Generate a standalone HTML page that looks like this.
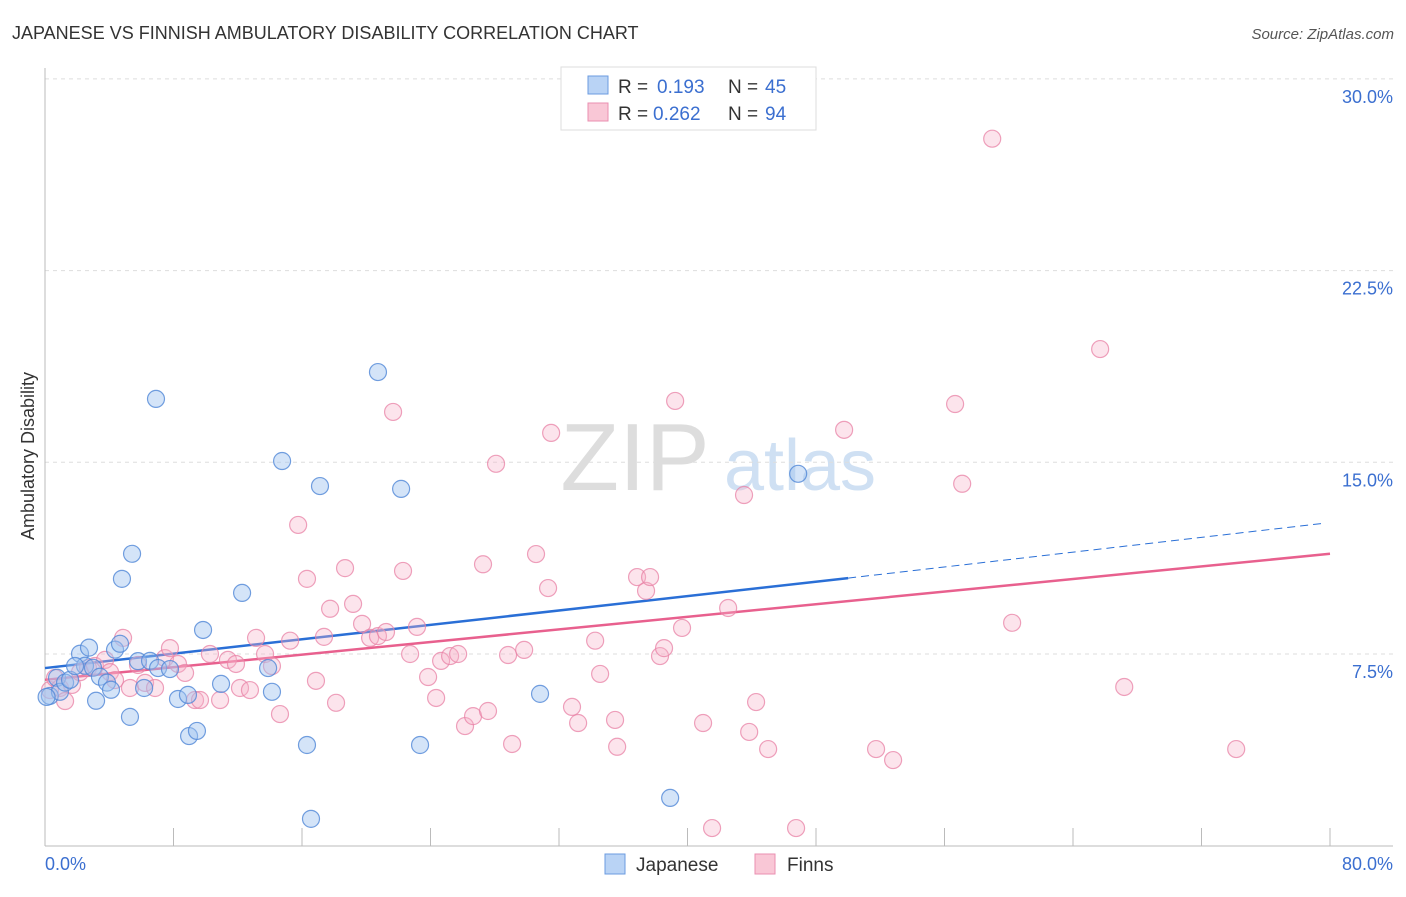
<!DOCTYPE html>
<html><head><meta charset="utf-8"><style>
body{margin:0;background:#fff;font-family:"Liberation Sans",sans-serif;}
svg text{font-family:"Liberation Sans",sans-serif;}
</style></head><body>
<svg id="chart" width="1406" height="892" xmlns="http://www.w3.org/2000/svg">
<text x="12" y="39" font-size="18" fill="#333">JAPANESE VS FINNISH AMBULATORY DISABILITY CORRELATION CHART</text>
<text x="1394" y="39" font-size="15" fill="#555" text-anchor="end" font-style="italic">Source: ZipAtlas.com</text>
<g>
<text x="635" y="490" font-size="96" fill="#ddd" text-anchor="middle" font-family="Liberation Serif,serif">ZIP</text>
<text x="800" y="490" font-size="72" fill="#cfe0f3" text-anchor="middle">atlas</text>
</g>
<g id="grid"></g>
<g id="axes"></g>
<g id="trends"></g>
<g id="points"></g>
<text transform="translate(34,456) rotate(-90)" font-size="18" fill="#333" text-anchor="middle">Ambulatory Disability</text>
<text x="45" y="870" font-size="18" fill="#3b6fd0">0.0%</text>
<text x="1393" y="870" font-size="18" fill="#3b6fd0" text-anchor="end">80.0%</text>
<g>
<rect x="561" y="67" width="255" height="63" fill="#fff" stroke="#ddd"/>
<rect x="588" y="76" width="20" height="18" fill="#b9d3f5" stroke="#6b9be0"/>
<rect x="588" y="103" width="20" height="18" fill="#f9c7d6" stroke="#ea8fb0"/>
<text x="618" y="93" font-size="19" fill="#333">R =</text>
<text x="657" y="93" font-size="19" fill="#3b6fd0">0.193</text>
<text x="728" y="93" font-size="19" fill="#333">N =</text>
<text x="765" y="93" font-size="19" fill="#3b6fd0">45</text>
<text x="618" y="120" font-size="19" fill="#333">R =</text>
<text x="653" y="120" font-size="19" fill="#3b6fd0">0.262</text>
<text x="728" y="120" font-size="19" fill="#333">N =</text>
<text x="765" y="120" font-size="19" fill="#3b6fd0">94</text>
</g>
<g>
<rect x="605" y="854" width="20" height="20" fill="#b9d3f5" stroke="#6b9be0"/>
<text x="636" y="871" font-size="19" fill="#333">Japanese</text>
<rect x="755" y="854" width="20" height="20" fill="#f9c7d6" stroke="#ea8fb0"/>
<text x="787" y="871" font-size="19" fill="#333">Finns</text>
</g>
</svg>
<script>
const yTicks=[7.5,15,22.5,30];
const yTickLabels=["7.5%","15.0%","22.5%","30.0%"];
const xTicks=[0,8,16,24,32,40,48,56,64,72,80];
const japX=[0.3,0.75,0.93,1.25,1.56,2.18,2.49,2.74,2.99,3.18,3.42,3.86,4.11,4.36,4.67,4.79,5.29,5.42,5.79,6.17,6.54,6.91,7.04,7.78,8.28,8.9,8.97,9.46,9.84,10.96,12.27,13.89,14.13,14.76,16.31,16.56,17.12,20.73,22.17,23.35,30.82,38.92,46.89,0.1,1.87];
const japY=[5.86,6.57,6.02,6.38,6.49,7.51,7.04,7.75,6.96,5.67,6.61,6.38,6.1,7.67,7.9,10.44,5.04,11.42,7.22,6.17,7.23,17.48,6.95,6.91,5.74,5.9,4.29,4.49,8.44,6.33,9.89,6.95,6.02,15.05,3.94,1.05,14.07,18.53,13.96,3.94,5.94,1.87,14.55,5.82,7.03];
const finX=[0.31,0.62,0.93,1.25,1.68,2.18,2.68,3.11,3.74,4.05,4.36,4.86,5.29,5.79,6.23,6.85,7.47,7.78,8.28,8.72,9.34,9.65,10.27,10.9,11.39,11.89,12.14,12.76,13.14,13.7,14.13,14.63,15.26,15.76,16.31,16.87,17.37,17.75,18.12,18.68,19.18,19.74,20.24,20.73,21.23,21.67,22.29,22.73,23.16,23.85,24.35,24.66,25.22,25.72,26.15,26.65,27.27,27.58,28.08,28.83,29.08,29.83,30.57,31.32,31.51,32.81,33.19,34.25,34.56,35.49,35.62,36.86,37.42,37.67,38.29,38.54,39.23,39.66,40.97,41.53,42.53,43.52,43.84,44.27,45.02,46.76,49.75,51.74,52.8,56.66,57.1,58.97,60.21,65.69,67.19,74.16];
const finY=[6.09,6.56,6.17,5.66,6.29,6.79,6.95,7.03,7.27,6.79,6.48,8.13,6.17,7.07,6.37,6.17,7.34,7.73,7.11,6.76,5.7,5.7,7.5,5.7,7.27,7.11,6.17,6.09,8.13,7.5,7.03,5.15,8.02,12.55,10.44,6.45,8.17,9.27,5.59,10.86,9.46,8.68,8.13,8.2,8.36,16.97,10.75,7.5,8.56,6.6,5.78,7.23,7.42,7.5,4.68,5.07,11.01,5.27,14.94,7.46,3.98,7.66,11.41,10.08,16.15,5.43,4.8,8.02,6.72,4.92,3.87,10.51,9.97,10.51,7.42,7.73,17.4,8.52,4.8,0.69,9.3,13.72,4.45,5.62,3.78,0.69,16.27,3.78,3.35,17.28,14.16,27.66,8.72,19.43,6.21,3.78];
const japTrend=[6.95,10.47,12.62];
const finTrend=[6.49,11.42];
const NS="http://www.w3.org/2000/svg";
const X=v=>45+v*(1285/80);
const Y=v=>845.7-v*25.56;
function mk(tag,attrs,parent){const e=document.createElementNS(NS,tag);for(const k in attrs)e.setAttribute(k,attrs[k]);parent.appendChild(e);return e;}
const grid=document.getElementById('grid'),axes=document.getElementById('axes'),trends=document.getElementById('trends'),pts=document.getElementById('points');
yTicks.forEach((t,i)=>{
 const l=mk('line',{x1:45,x2:1393,y1:Y(t),y2:Y(t),stroke:'#ddd','stroke-dasharray':'4,4'},grid);
 
 
 const tx=mk('text',{x:1393,y:Y(t)+24,'font-size':18,fill:'#3b6fd0','text-anchor':'end'},grid);
 tx.textContent=yTickLabels[i];
 
 
});
const ya=mk('line',{x1:45,x2:45,y1:68,y2:846,stroke:'#bbb'},axes);


const xa=mk('line',{x1:45,x2:1393,y1:846,y2:846,stroke:'#bbb'},axes);


xTicks.forEach(t=>{
 const l=mk('line',{x1:X(t),x2:X(t),y1:828,y2:846,stroke:'#bbb'},axes);
 
 
});
function addPts(xs,ys,fill,stroke,name){
 xs.forEach((x,i)=>{
  const c=mk('circle',{cx:X(x),cy:Y(ys[i]),r:8.5,fill:fill,stroke:stroke,'stroke-width':1.2},pts);
  
  
 });
}
addPts(finX,finY,'rgba(246,178,200,0.35)','rgba(232,130,165,0.75)','finns-point');
addPts(japX,japY,'rgba(160,195,240,0.45)','rgba(80,135,215,0.8)','japanese-point');
let t1=mk('line',{x1:X(0),y1:Y(japTrend[0]),x2:X(50),y2:Y(japTrend[1]),stroke:'#2a6fd6','stroke-width':2.5},trends);


let t2=mk('line',{x1:X(50),y1:Y(japTrend[1]),x2:X(79.7),y2:Y(japTrend[2]),stroke:'#2a6fd6','stroke-width':1,'stroke-dasharray':'8,5'},trends);


let t3=mk('line',{x1:X(0),y1:Y(finTrend[0]),x2:X(80),y2:Y(finTrend[1]),stroke:'#e8608e','stroke-width':2.5},trends);


</script>
</body></html>
